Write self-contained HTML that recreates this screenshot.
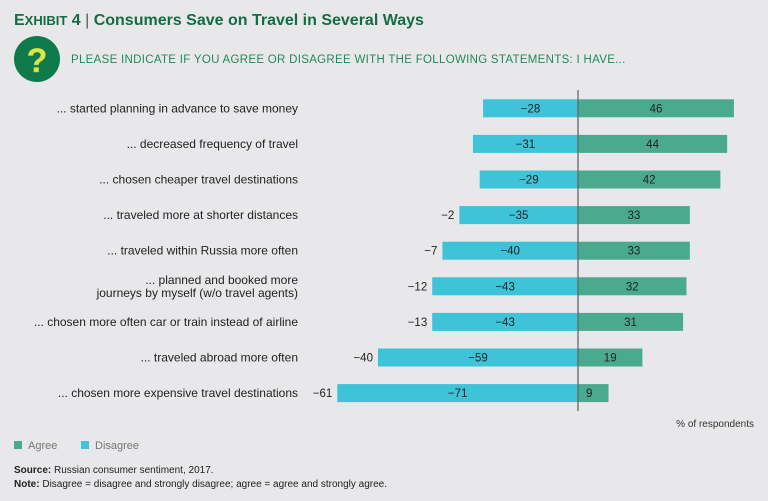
<!DOCTYPE html>
<html><head><meta charset="utf-8">
<style>
html,body{margin:0;padding:0;background:#e8e8ea;}
body{width:768px;height:501px;overflow:hidden;font-family:"Liberation Sans",sans-serif;}
svg{display:block}
</style></head>
<body>
<svg width="768" height="501" viewBox="0 0 768 501">
<rect width="768" height="501" fill="#e8e8ea"/>
<text x="14" y="25" font-size="16" font-weight="bold" fill="#146c46"><tspan font-size="16">E</tspan><tspan font-size="13">XHIBIT</tspan> 4 <tspan fill="#555" font-weight="normal">|</tspan> Consumers Save on Travel in Several Ways</text>
<g>
<circle cx="37" cy="59" r="23" fill="#0e7a4c"/>
<text x="37" y="72" font-size="34" font-weight="bold" text-anchor="middle" fill="#d8e84a" stroke="#b0c030" stroke-width="0.5">?</text>
</g>
<text x="71" y="63" font-size="11.5" fill="#1f8a5a" letter-spacing="0.3">PLEASE INDICATE IF YOU AGREE OR DISAGREE WITH THE FOLLOWING STATEMENTS: I HAVE...</text>
<g id="bars"></g>
<text x="754" y="427" font-size="10" fill="#333" text-anchor="end">% of respondents</text>
<g>
<rect x="14" y="441" width="8" height="8" fill="#4aaa8e"/>
<text x="28" y="449" font-size="11" fill="#777">Agree</text>
<rect x="81" y="441" width="8" height="8" fill="#3ec3d9"/>
<text x="95" y="449" font-size="11" fill="#777">Disagree</text>
</g>
<text x="14" y="473" font-size="10" fill="#222"><tspan font-weight="bold">Source:</tspan> Russian consumer sentiment, 2017.</text>
<text x="14" y="487" font-size="10" fill="#222"><tspan font-weight="bold">Note:</tspan> Disagree = disagree and strongly disagree; agree = agree and strongly agree.</text>
</svg>
<script>
const categories=[["... started planning in advance to save money"],["... decreased frequency of travel"],["... chosen cheaper travel destinations"],["... traveled more at shorter distances"],["... traveled within Russia more often"],["... planned and booked more","journeys by myself (w/o travel agents)"],["... chosen more often car or train instead of airline"],["... traveled abroad more often"],["... chosen more expensive travel destinations"]];
const agree=[46,44,42,33,33,32,31,19,9];
const disagree=[28,31,29,35,40,43,43,59,71];
const net=[null,null,null,-2,-7,-12,-13,-40,-61];
const NS="http://www.w3.org/2000/svg";
const g=document.getElementById('bars');
const zero=578, k=3.39, top0=99.3, step=35.6, bh=18;
const x=v=>zero+v*k;
const y=i=>top0+i*step;
function mk(t,a){const e=document.createElementNS(NS,t);for(const n in a)e.setAttribute(n,a[n]);g.appendChild(e);return e;}
categories.forEach((lab,i)=>{
  const yc=y(i)+bh/2;
  const lt=mk('text',{x:298,'text-anchor':'end','font-size':12,fill:'#222'});
  
  
  lab.forEach((l,j)=>{const ts=document.createElementNS(NS,'tspan');ts.setAttribute('x',298);ts.setAttribute('y',yc+4+(j-(lab.length-1)/2)*13);ts.textContent=l;lt.appendChild(ts);});
  const d=mk('rect',{x:x(-disagree[i]),y:y(i),width:disagree[i]*k,height:bh,fill:'#3ec3d9'});
  
  
  const a=mk('rect',{x:zero,y:y(i),width:agree[i]*k,height:bh,fill:'#4aaa8e'});
  
  
  const dt=mk('text',{x:(x(-disagree[i])+zero)/2,y:yc+4,'text-anchor':'middle','font-size':11.5,fill:'#222'});
  dt.textContent='\u2212'+disagree[i];
  
  
  const at=mk('text',{x:agree[i]<12?zero+8:(zero+x(agree[i]))/2,y:yc+4,'text-anchor':agree[i]<12?'start':'middle','font-size':11.5,fill:'#222'});
  at.textContent=agree[i];
  
  
  if(net[i]!==null){
    const nt=mk('text',{x:x(-disagree[i])-5,y:yc+4,'text-anchor':'end','font-size':11.5,fill:'#222'});
    nt.textContent='\u2212'+Math.abs(net[i]);
    
    
  }
});
const zl=mk('line',{x1:zero,x2:zero,y1:90,y2:411,stroke:'#666','stroke-width':1.3});


</script>
</body></html>
